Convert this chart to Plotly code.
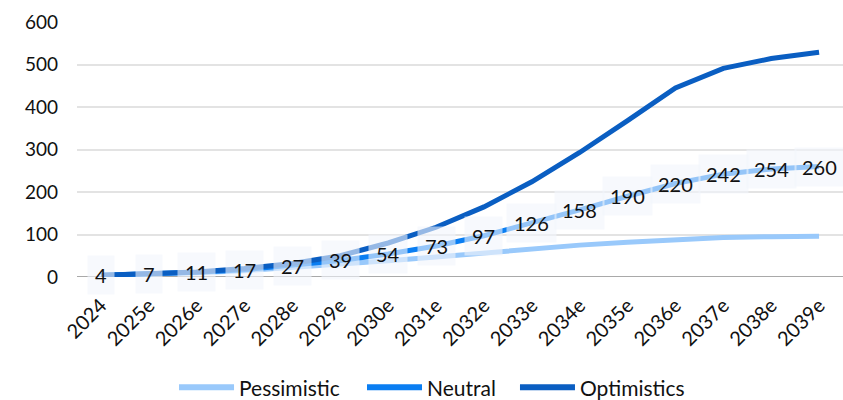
import plotly.graph_objects as go

years = ["2024", "2025e", "2026e", "2027e", "2028e", "2029e", "2030e", "2031e",
         "2032e", "2033e", "2034e", "2035e", "2036e", "2037e", "2038e", "2039e"]
pessimistic = [4, 6, 10, 15, 22, 29, 38, 47, 56, 67, 75, 82, 88, 93, 95, 96]
neutral = [4, 7, 11, 17, 27, 39, 54, 73, 97, 126, 158, 190, 220, 242, 254, 260]
optimistic = [4, 8, 12, 20, 32, 50, 80, 117, 165, 224, 293, 368, 445, 491, 514, 529]

series = [("Pessimistic", pessimistic, "#99c9fb"),
          ("Neutral", neutral, "#0a7ef2"),
          ("Optimistics", optimistic, "#0a5ec2")]

FONT = "Lato"
TXT = "#111111"

fig = go.Figure()
for name, vals, color in series:
    fig.add_trace(go.Scatter(x=years, y=vals, name=name, mode="lines",
                             line=dict(color=color, width=5), showlegend=False))

# value labels on the neutral scenario, with translucent boxes
for i, v in enumerate(neutral):
    fig.add_annotation(x=i, y=v, xref="x", yref="y", text=str(v), showarrow=False,
                       font=dict(family=FONT, size=20, color=TXT),
                       bgcolor="rgba(242,245,252,0.6)", borderpad=7)

# legend row below the chart: long line swatch followed by the series name
legend_y = -0.432
swatch_x = [(0.1332, 0.2050), (0.3786, 0.4504), (0.5783, 0.6501)]
for (name, vals, color), (x0, x1) in zip(series, swatch_x):
    fig.add_shape(type="line", xref="paper", yref="paper", x0=x0, x1=x1,
                  y0=legend_y, y1=legend_y, line=dict(color=color, width=6))
    fig.add_annotation(xref="paper", yref="paper", x=x1 + 0.004, y=legend_y,
                       xanchor="left", yanchor="middle", text=name, showarrow=False,
                       font=dict(family=FONT, size=21, color=TXT))

fig.update_layout(
    width=843, height=400,
    margin=dict(l=77, r=0, t=22, b=123),
    paper_bgcolor="white", plot_bgcolor="white",
    font=dict(family=FONT, size=19, color=TXT),
    showlegend=False,
)
fig.update_xaxes(type="category", tickangle=-45, showgrid=False, ticks="",
                 tickfont=dict(family=FONT, size=20, color=TXT),
                 ticklabelstandoff=12, automargin=False,
                 range=[-0.5, 15.5], showline=False, zeroline=False)
fig.update_yaxes(range=[0, 600], dtick=100, showgrid=True, gridcolor="#e3e3e3",
                 gridwidth=1.5, zeroline=False, showline=False, ticks="",
                 ticklabelstandoff=18, automargin=False,
                 tickfont=dict(family=FONT, size=19, color=TXT))
# baseline at zero
fig.add_shape(type="line", xref="paper", yref="y", x0=0, x1=1, y0=0, y1=0,
              line=dict(color="#8c8c8c", width=1.5), layer="below")

fig.write_html("out.html")
